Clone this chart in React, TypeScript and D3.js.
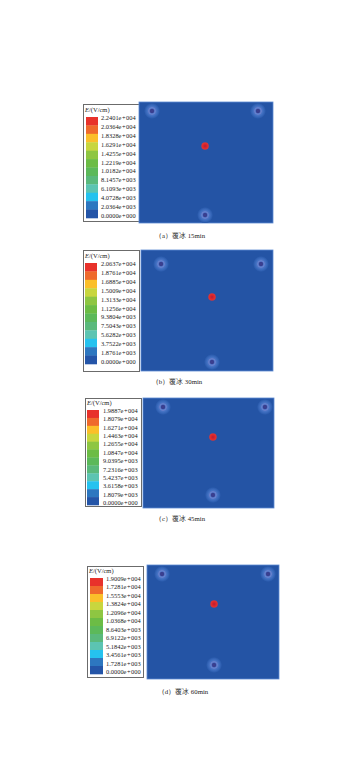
import React from "react";
import * as d3 from "d3";

// ---- data ----
const captions = ["（a）覆冰 15min", "（b）覆冰 30min", "（c）覆冰 45min", "（d）覆冰 60min"];
const legendA = ["2.2401e+004", "2.0364e+004", "1.8328e+004", "1.6291e+004", "1.4255e+004", "1.2219e+004", "1.0182e+004", "8.1457e+003", "6.1093e+003", "4.0728e+003", "2.0364e+003", "0.0000e+000"];
const legendB = ["2.0637e+004", "1.8761e+004", "1.6885e+004", "1.5009e+004", "1.3133e+004", "1.1256e+004", "9.3804e+003", "7.5043e+003", "5.6282e+003", "3.7522e+003", "1.8761e+003", "0.0000e+000"];
const legendC = ["1.9887e+004", "1.8079e+004", "1.6271e+004", "1.4463e+004", "1.2655e+004", "1.0847e+004", "9.0395e+003", "7.2316e+003", "5.4237e+003", "3.6158e+003", "1.8079e+003", "0.0000e+000"];
const legendD = ["1.9009e+004", "1.7281e+004", "1.5553e+004", "1.3824e+004", "1.2096e+004", "1.0368e+004", "8.6403e+003", "6.9122e+003", "5.1842e+003", "3.4561e+003", "1.7281e+003", "0.0000e+000"];
const bandColors = ["#e8322b", "#ef6a2c", "#fbbf2a", "#c8d63e", "#8ec642", "#6cbc45", "#5cb95a", "#5ab97c", "#5cc4b2", "#25c2ef", "#2d77c0", "#2455a8"];
// electrode (ring) positions, normalized in field
const ringsA = [[0.097, 0.074], [0.888, 0.074], [0.493, 0.934]];
const ringsB = [[0.152, 0.116], [0.909, 0.116], [0.538, 0.926]];
const ringsC = [[0.153, 0.082], [0.931, 0.082], [0.534, 0.882]];
const ringsD = [[0.114, 0.079], [0.917, 0.079], [0.508, 0.877]];
// max-field hot spot positions
const hotA = [0.493, 0.364];
const hotB = [0.538, 0.388];
const hotC = [0.534, 0.355];
const hotD = [0.508, 0.342];

// ---- layout ----
const panels = [
  { legend: legendA, rings: ringsA, hot: hotA, cap: captions[0], box: [83, 104, 139, 221], sw: [86, 98, 117, 218], lx: 101, field: [139, 102, 273, 223], capY: 238, capX: 180 },
  { legend: legendB, rings: ringsB, hot: hotB, cap: captions[1], box: [83, 250, 139, 371], sw: [85, 97, 263, 364], lx: 101, field: [141, 250, 273, 371], capY: 384, capX: 177 },
  { legend: legendC, rings: ringsC, hot: hotC, cap: captions[2], box: [85, 398, 141, 506], sw: [87, 99, 410, 505], lx: 103, field: [143, 398, 274, 508], capY: 521, capX: 180 },
  { legend: legendD, rings: ringsD, hot: hotD, cap: captions[3], box: [87, 566, 143, 677], sw: [90, 103, 578, 674], lx: 106, field: [147, 565, 279, 679], capY: 694, capX: 183 },
];

const serif = "'Liberation Serif', 'DejaVu Serif', serif";

function Panel({ p }: { p: any }) {
  const [bx0, by0, bx1, by1] = p.box;
  const [sx0, sx1, sy0, sy1] = p.sw;
  const band = d3.scaleBand<number>().domain(d3.range(p.legend.length)).range([sy0, sy1]).paddingInner(0);
  const labelY = d3.scalePoint<number>().domain(d3.range(p.legend.length)).range([sy0 + 0.5, sy1 - 2]);
  const [fx0, fy0, fx1, fy1] = p.field;
  const xs = d3.scaleLinear().domain([0, 1]).range([fx0, fx1]);
  const ys = d3.scaleLinear().domain([0, 1]).range([fy0, fy1]);
  return (
    <g>
      <rect x={bx0 + 0.5} y={by0 + 0.5} width={bx1 - bx0} height={by1 - by0} fill="#fff" stroke="#6b6b6b" strokeWidth={1} />
      <text x={bx0 + 2} y={sy0 - 5} fontFamily={serif} fontSize={6.5} fill="#222">
        <tspan fontStyle="italic">E</tspan>/(V/cm)
      </text>
      {p.legend.map((_: string, k: number) => (
        <rect key={k} x={sx0} y={band(k)} width={sx1 - sx0} height={band.bandwidth() + 0.3} fill={bandColors[k]} />
      ))}
      {p.legend.map((t: string, k: number) => (
        <text key={"l" + k} x={p.lx} y={labelY(k)} dy="0.35em" fontFamily={serif} fontSize={6.4} fill="#222">
          {t.replace("+", "\u200A+\u200A")}
        </text>
      ))}
      <rect x={fx0} y={fy0} width={fx1 - fx0} height={fy1 - fy0} fill="#2454a5" stroke="#5d8ad2" strokeWidth={0.8} />
      {p.rings.map((r: number[], k: number) => (
        <g key={"r" + k}>
          <circle cx={xs(r[0])} cy={ys(r[1])} r={8} fill={`url(#halo)`} />
          <circle cx={xs(r[0])} cy={ys(r[1])} r={3.4} fill="none" stroke="#7a86cf" strokeWidth={0.9} opacity={0.8} />
          <circle cx={xs(r[0])} cy={ys(r[1])} r={2.2} fill="#3a3f8f" />
        </g>
      ))}
      <circle cx={xs(p.hot[0])} cy={ys(p.hot[1])} r={3.8} fill="url(#hot)" />
      <text x={p.capX} y={p.capY} textAnchor="middle" fontFamily={serif} fontSize={6.8} fill="#222">
        {p.cap}
      </text>
    </g>
  );
}

export default function App() {
  return (
    <svg width={348} height={784} style={{ position: "absolute", left: 0, top: 0, background: "#fff" }}>
      <defs>
        <radialGradient id="halo">
          <stop offset="0%" stopColor="#5a7fd0" />
          <stop offset="55%" stopColor="#4774c5" />
          <stop offset="80%" stopColor="#3364b6" />
          <stop offset="100%" stopColor="#2454a5" />
        </radialGradient>
        <radialGradient id="hot">
          <stop offset="0%" stopColor="#b0203a" />
          <stop offset="45%" stopColor="#d9242c" />
          <stop offset="85%" stopColor="#e3332e" />
          <stop offset="100%" stopColor="#c0384a" />
        </radialGradient>
      </defs>
      {panels.map((p, i) => (
        <Panel key={i} p={p} />
      ))}
    </svg>
  );
}
